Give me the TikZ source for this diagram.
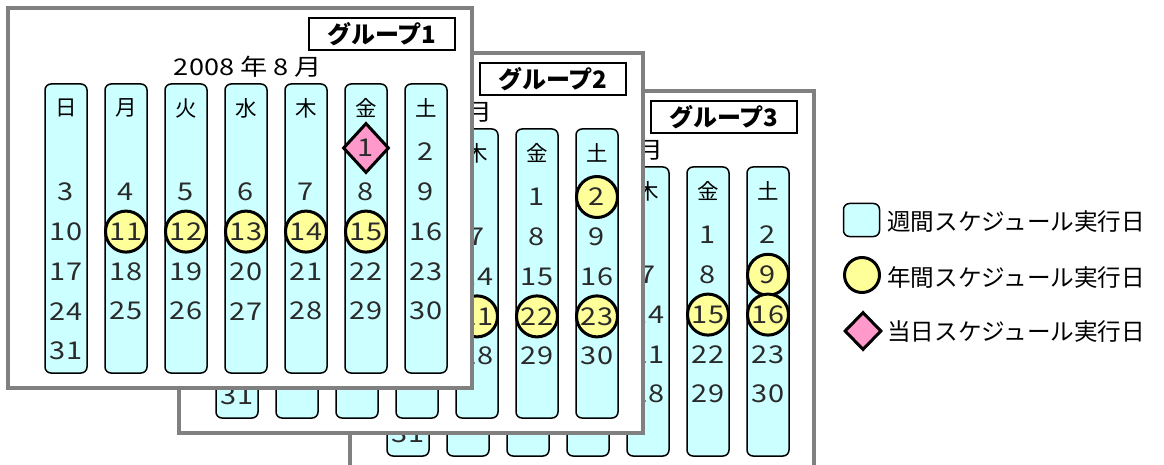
\documentclass[tikz,border=0pt]{standalone}
\usepackage{fontspec}
\setmainfont{Noto Sans CJK JP}
\newfontfamily\numfont[FakeStretch=1.18]{Noto Sans CJK JP}
\usetikzlibrary{shapes.geometric}

\definecolor{colfill}{HTML}{CCFFFF}
\definecolor{circfill}{HTML}{FFFF99}
\definecolor{diafill}{HTML}{FF99CC}
\definecolor{framegray}{HTML}{808080}
\definecolor{numgray}{HTML}{2A2A2A}

\tikzset{
 daycol/.style={draw=black, line width=1.5pt, fill=colfill, rounded corners=6pt},
 calframe/.style={draw=framegray, line width=3.5pt, fill=white},
 titlebox/.style={draw=black, line width=2pt, fill=white, minimum width=146pt, minimum height=32pt, inner sep=0pt, font=\fontsize{24}{24}\selectfont\bfseries},
 monthlabel/.style={anchor=east, font=\numfont\fontsize{23}{23}\selectfont, inner sep=0pt},
 daynum/.style={text=numgray, font=\numfont\fontsize{24.5}{24.5}\selectfont, inner sep=0pt},
 wkday/.style={font=\fontsize{21.5}{21.5}\selectfont, inner sep=0pt},
 yearmark/.style={circle, draw=black, line width=3pt, fill=circfill, minimum size=41pt, inner sep=0pt},
 todaymark/.style={diamond, draw=black, line width=3pt, fill=diafill, minimum width=46pt, minimum height=50pt, inner sep=0pt},
 legtext/.style={anchor=west, font=\fontsize{23.6}{23.6}\selectfont, inner sep=0pt},
}

\newcommand{\setdaypos}[1]{%
 \pgfmathtruncatemacro\dpos{#1+4}%
 \pgfmathtruncatemacro\dcol{mod(\dpos,7)}%
 \pgfmathtruncatemacro\drow{floor(\dpos/7)}%
 \pgfmathsetmacro\dx{58+60*\dcol}%
 \pgfmathsetmacro\dy{144+39.8*\drow}%
}

% #1 name, #2 x, #3 y, #4 title number, #5 weekday labels, #6 plain days, #7 circled days
\newcommand{\calgroup}[7]{%
\begin{scope}[shift={(#2,#3)}]
 \draw[calframe] (0,0) rectangle (464,380);
 \node[titlebox] (#1title) at (374,26) {グループ#4};
 \foreach \i in {0,...,6} {
   \draw[daycol] ({58+60*\i-21},76) rectangle ({58+60*\i+21},365);
 }
 \foreach \i/\w in {#5} {
   \node[wkday] (#1w\i) at ({58+60*\i},100) {\w};
 }
 \foreach \d in {#6} {
   \setdaypos{\d}
   \node[daynum] (#1d\d) at (\dx,\dy) {\d};
 }
 \foreach \d in {#7} {
   \setdaypos{\d}
   \node[yearmark, daynum] (#1d\d) at (\dx,\dy) {\d};
 }
\end{scope}}

\begin{document}
\begin{tikzpicture}[x=1pt, y=-1pt]
\useasboundingbox (0,0) rectangle (1164,465);
\clip (0,0) rectangle (1164,465);

% group 3 (back)
\calgroup{g3}{350}{91}{3}{4/木,5/金,6/土}{31,7,14,21,28,1,8,22,29,2,23,30}{9,15,16}
\node[monthlabel] (g3month) at (350+314,91+59) {月};

% group 2
\calgroup{g2}{179}{53}{2}{4/木,5/金,6/土}{31,7,14,28,1,8,15,29,9,16,30}{2,21,22,23}
\node[monthlabel] (g2month) at (179+314,53+59) {月};

% group 1 (front)
\calgroup{g1}{8}{8}{1}{0/日,1/月,2/火,3/水,4/木,5/金,6/土}{2,3,...,10,16,17,...,31}{11,12,13,14,15}
\node[monthlabel] (g1month) at (8+314,8+59) {2008 年 8 月};
\setdaypos{1}
\node[todaymark, daynum] (g1d1) at ({8+\dx},{8+\dy-4}) {1};

% legend
\node[daycol, minimum width=36pt, minimum height=33pt, inner sep=0pt] (legbox) at (861.5,220) {};
\node[legtext] (legt1) at (887,222) {週間スケジュール実行日};
\node[yearmark, minimum size=35pt] (legcirc) at (862,275) {};
\node[legtext] (legt2) at (887,278) {年間スケジュール実行日};
\node[todaymark, minimum width=37pt, minimum height=38pt] (legdia) at (863,331) {};
\node[legtext] (legt3) at (887,332) {当日スケジュール実行日};
\end{tikzpicture}
\end{document}
